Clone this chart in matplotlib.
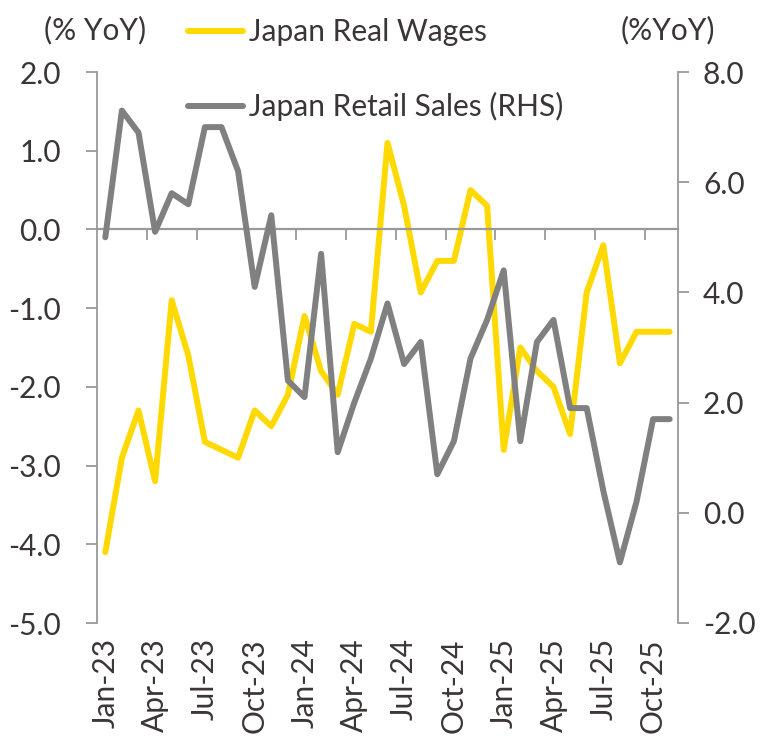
import matplotlib
matplotlib.use('Agg')
import matplotlib.pyplot as plt
import numpy as np
import pandas as pd

# ---- data ----
months = pd.date_range('2023-01-01', periods=35, freq='MS').strftime('%b-%y').tolist()
real_wages = [-4.1, -2.9, -2.3, -3.2, -0.9, -1.6, -2.7, -2.8, -2.9, -2.3, -2.5, -2.1,
              -1.1, -1.8, -2.1, -1.2, -1.3, 1.1, 0.3, -0.8, -0.4, -0.4, 0.5, 0.3,
              -2.8, -1.5, -1.8, -2.0, -2.6, -0.8, -0.2, -1.7, -1.3, -1.3, -1.3]
retail_sales = [5.0, 7.3, 6.9, 5.1, 5.8, 5.6, 7.0, 7.0, 6.2, 4.1, 5.4, 2.4,
                2.1, 4.7, 1.1, 2.0, 2.8, 3.8, 2.7, 3.1, 0.7, 1.3, 2.8, 3.5,
                4.4, 1.3, 3.1, 3.5, 1.9, 1.9, 0.4, -0.9, 0.2, 1.7, 1.7]
left_ticks = [-5, -4, -3, -2, -1, 0, 1, 2]
right_ticks = [-2, 0, 2, 4, 6, 8]
series_names = ['Japan Real Wages', 'Japan Retail Sales (RHS)']
left_unit = '(% YoY)'
right_unit = '(%YoY)'

# ---- style ----
plt.rcParams['font.family'] = ['Lato', 'DejaVu Sans']
FS = 21.5
TEXT = '#3b3536'
AXC = '#999999'
YEL = '#FFD900'
GRY = '#808080'
LW = 4.3

W, H = 771, 741
fig = plt.figure(figsize=(W / 100, H / 100), dpi=100)
rect = [97 / W, 1 - 623 / H, (678 - 97) / W, (623 - 72) / H]
ax = fig.add_axes(rect)
x = np.arange(len(months))

l1, = ax.plot(x, real_wages, color=YEL, lw=LW, solid_capstyle='round', solid_joinstyle='round')
ax.set_xlim(-0.5, len(months) - 0.5)
ax.set_ylim(min(left_ticks), max(left_ticks))
ax.set_yticks(left_ticks)
ax.set_yticklabels([f'{v:.1f}' for v in left_ticks])
for s in ['top', 'right']:
    ax.spines[s].set_visible(False)
ax.spines['left'].set_color(AXC)
ax.spines['left'].set_linewidth(1.3)
ax.spines['bottom'].set_position(('data', 0))
ax.spines['bottom'].set_color(AXC)
ax.spines['bottom'].set_linewidth(1.6)
ax.set_xticks(np.arange(2.5, len(months) - 1, 3))
ax.tick_params(axis='x', length=8, width=1.3, color=AXC, labelbottom=False, direction='out')
ax.tick_params(axis='y', length=8, width=1.3, color=AXC, labelsize=FS, labelcolor=TEXT, pad=18)

ax2 = ax.twinx()
l2, = ax2.plot(x, retail_sales, color=GRY, lw=LW, solid_capstyle='round', solid_joinstyle='round')
ax2.set_ylim(min(right_ticks), max(right_ticks))
ax2.set_yticks(right_ticks)
ax2.set_yticklabels([f'{v:.1f}' for v in right_ticks])
for s in ['top', 'left', 'bottom']:
    ax2.spines[s].set_visible(False)
ax2.spines['right'].set_color(AXC)
ax2.spines['right'].set_linewidth(1.3)
ax2.tick_params(axis='y', length=8, width=1.3, color=AXC, labelsize=FS, labelcolor=TEXT, pad=10)

# category labels at the bottom
lab = fig.add_axes(rect, frameon=False)
lab.set_xlim(ax.get_xlim())
lab.set_yticks([])
lab.set_xticks(x[::3])
lab.set_xticklabels(months[::3], rotation=90, fontsize=FS, color=TEXT)
lab.tick_params(axis='x', length=0, pad=11)
lab.patch.set_alpha(0)

fig.text(95 / W, 1 - 30 / H, left_unit, ha='center', va='center', fontsize=FS, color=TEXT)
fig.text(668 / W, 1 - 30 / H, right_unit, ha='center', va='center', fontsize=FS, color=TEXT)

leg = fig.legend([l1, l2], series_names, loc='upper left', bbox_to_anchor=(188 / W, 1 - 18 / H),
                 frameon=False, fontsize=FS, labelcolor=TEXT, handlelength=1.85,
                 handletextpad=0.2, labelspacing=1.55, borderpad=0, borderaxespad=0)

fig.savefig('out.png', dpi=100)
